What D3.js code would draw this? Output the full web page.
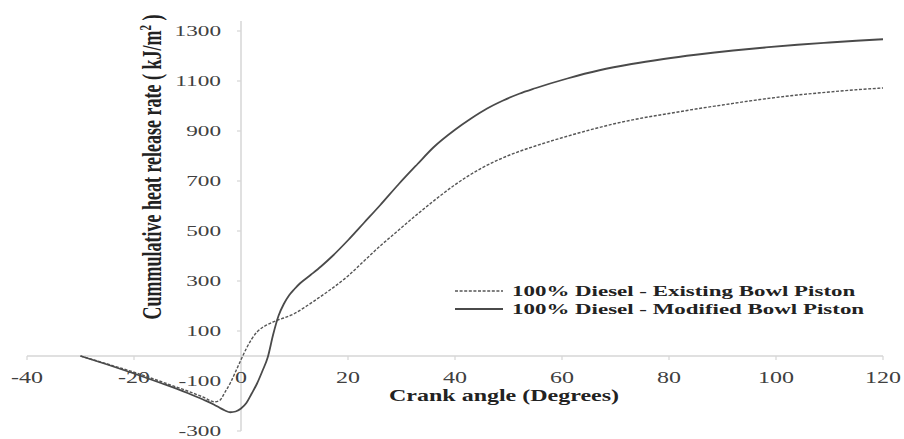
<!DOCTYPE html>
<html><head><meta charset="utf-8">
<script src="https://cdn.jsdelivr.net/npm/d3@7"></script>
<style>body{margin:0;background:#fff}svg{display:block}</style>
</head><body>
<svg id="c" width="904" height="439"></svg>
<script>
// ---- data ----
const existingX = [-30,-25,-20,-15,-10,-7,-5,-4,-3,-2,-1,0,1,2,3,4,5,6,7,8,10,12,14,17,20,23,26,29,32,36,40,45,50,55,60,65,70,75,80,85,90,97,104,110,115,120];
const existingY = [0,-32,-65,-102,-140,-165,-183,-178,-145,-108,-62,-15,30,68,96,114,126,136,145,152,170,196,225,270,320,380,440,495,550,620,685,752,802,840,873,903,930,952,970,988,1004,1026,1044,1056,1065,1072];
const modifiedX = [-30,-25,-20,-15,-10,-7,-5,-4,-3,-2,-1,0,1,2,3,4,5,6,7,8,9,10,11,13,15,17,20,23,26,29.5,33,36,40,43,46,49,52,55,61,67,73,79,85,92,98,104,110,115,120];
const modifiedY = [0,-34,-70,-108,-148,-175,-195,-207,-218,-225,-222,-210,-188,-150,-110,-60,-5,85,160,208,243,268,290,324,359,398,463,533,603,688,768,835,905,950,990,1022,1049,1071,1110,1143,1168,1188,1205,1222,1234,1245,1254,1261,1267];
const xTicks = [-40,-20,0,20,40,60,80,100,120];
const yTicks = [-300,-100,100,300,500,700,900,1100,1300];
const seriesNames = ["100% Diesel - Existing Bowl Piston","100% Diesel - Modified Bowl Piston"];
const xTitle = "Crank angle (Degrees)";

// ---- chart ----
const svg = d3.select("#c");
const x = d3.scaleLinear().domain([-40,120]).range([27,883]);
const y = d3.scaleLinear().domain([-300,1340]).range([431,21]);
const SX = 1.5; // horizontal stretch seen in the picture
const font = "'Liberation Serif','Times New Roman',serif";
const axisCol = "#d6d6d6", labelCol = "#404040";

// axis lines
svg.append("line").attr("x1",x(-40)).attr("x2",x(120)).attr("y1",y(0)).attr("y2",y(0))
  .attr("stroke",axisCol).attr("stroke-width",1.5);
svg.append("line").attr("x1",x(0)).attr("x2",x(0)).attr("y1",y(-300)).attr("y2",y(1340))
  .attr("stroke",axisCol).attr("stroke-width",1.5);
// ticks
svg.selectAll(".xt").data(xTicks).enter().append("line")
  .attr("x1",d=>x(d)).attr("x2",d=>x(d)).attr("y1",y(0)).attr("y2",y(0)+4)
  .attr("stroke",axisCol).attr("stroke-width",1.2);
svg.selectAll(".yt").data(yTicks).enter().append("line")
  .attr("x1",x(0)-4).attr("x2",x(0)).attr("y1",d=>y(d)).attr("y2",d=>y(d))
  .attr("stroke",axisCol).attr("stroke-width",1.2);
// tick labels
svg.selectAll(".xl").data(xTicks).enter().append("text")
  .attr("transform",d=>`translate(${x(d)},${y(0)+27}) scale(${SX},1)`)
  .attr("text-anchor","middle").attr("font-family",font).attr("font-size",16)
  .attr("fill",labelCol).text(d=>d);
svg.selectAll(".yl").data(yTicks).enter().append("text")
  .attr("transform",d=>`translate(${x(0)-20},${y(d)+5}) scale(${SX},1)`)
  .attr("text-anchor","end").attr("font-family",font).attr("font-size",15.5)
  .attr("fill",labelCol).text(d=>d);
// axis titles
svg.append("text").attr("transform",`translate(504,401) scale(${SX},1)`)
  .attr("text-anchor","middle").attr("font-family",font).attr("font-size",16)
  .attr("font-weight","bold").attr("fill","#222").text(xTitle);
const yt = svg.append("text").attr("transform",`translate(161,167) scale(${SX},1) rotate(-90)`)
  .attr("text-anchor","middle").attr("font-family",font).attr("font-size",18)
  .attr("font-weight","bold").attr("fill","#222");
yt.append("tspan").text("Cummulative heat release rate ( kJ/m");
yt.append("tspan").attr("font-size",11).attr("dy",-7).text("2");
yt.append("tspan").attr("dy",7).text(" )");

// lines
const line = d3.line().x(d=>x(d[0])).y(d=>y(d[1])).curve(d3.curveMonotoneX);
const ex = existingX.map((v,i)=>[v,existingY[i]]);
const mo = modifiedX.map((v,i)=>[v,modifiedY[i]]);
svg.append("path").attr("d",line(ex)).attr("fill","none").attr("stroke","#555")
  .attr("stroke-width",1.4).attr("stroke-dasharray","3,1.6");
svg.append("path").attr("d",line(mo)).attr("fill","none").attr("stroke","#4a4a4a")
  .attr("stroke-width",1.8);

// legend
const lg = [{dash:"3,1.6",w:1.4,c:"#555",yy:291},{dash:null,w:1.8,c:"#4a4a4a",yy:309}];
lg.forEach((l,i)=>{
  const ln = svg.append("line").attr("x1",455).attr("x2",503).attr("y1",l.yy).attr("y2",l.yy)
    .attr("stroke",l.c).attr("stroke-width",l.w);
  if(l.dash) ln.attr("stroke-dasharray",l.dash);
  svg.append("text").attr("transform",`translate(512,${l.yy+5}) scale(1.48,1)`)
    .attr("font-family",font).attr("font-size",15.5).attr("font-weight","bold")
    .attr("fill","#222").text(seriesNames[i]);
});
</script>
</body></html>
